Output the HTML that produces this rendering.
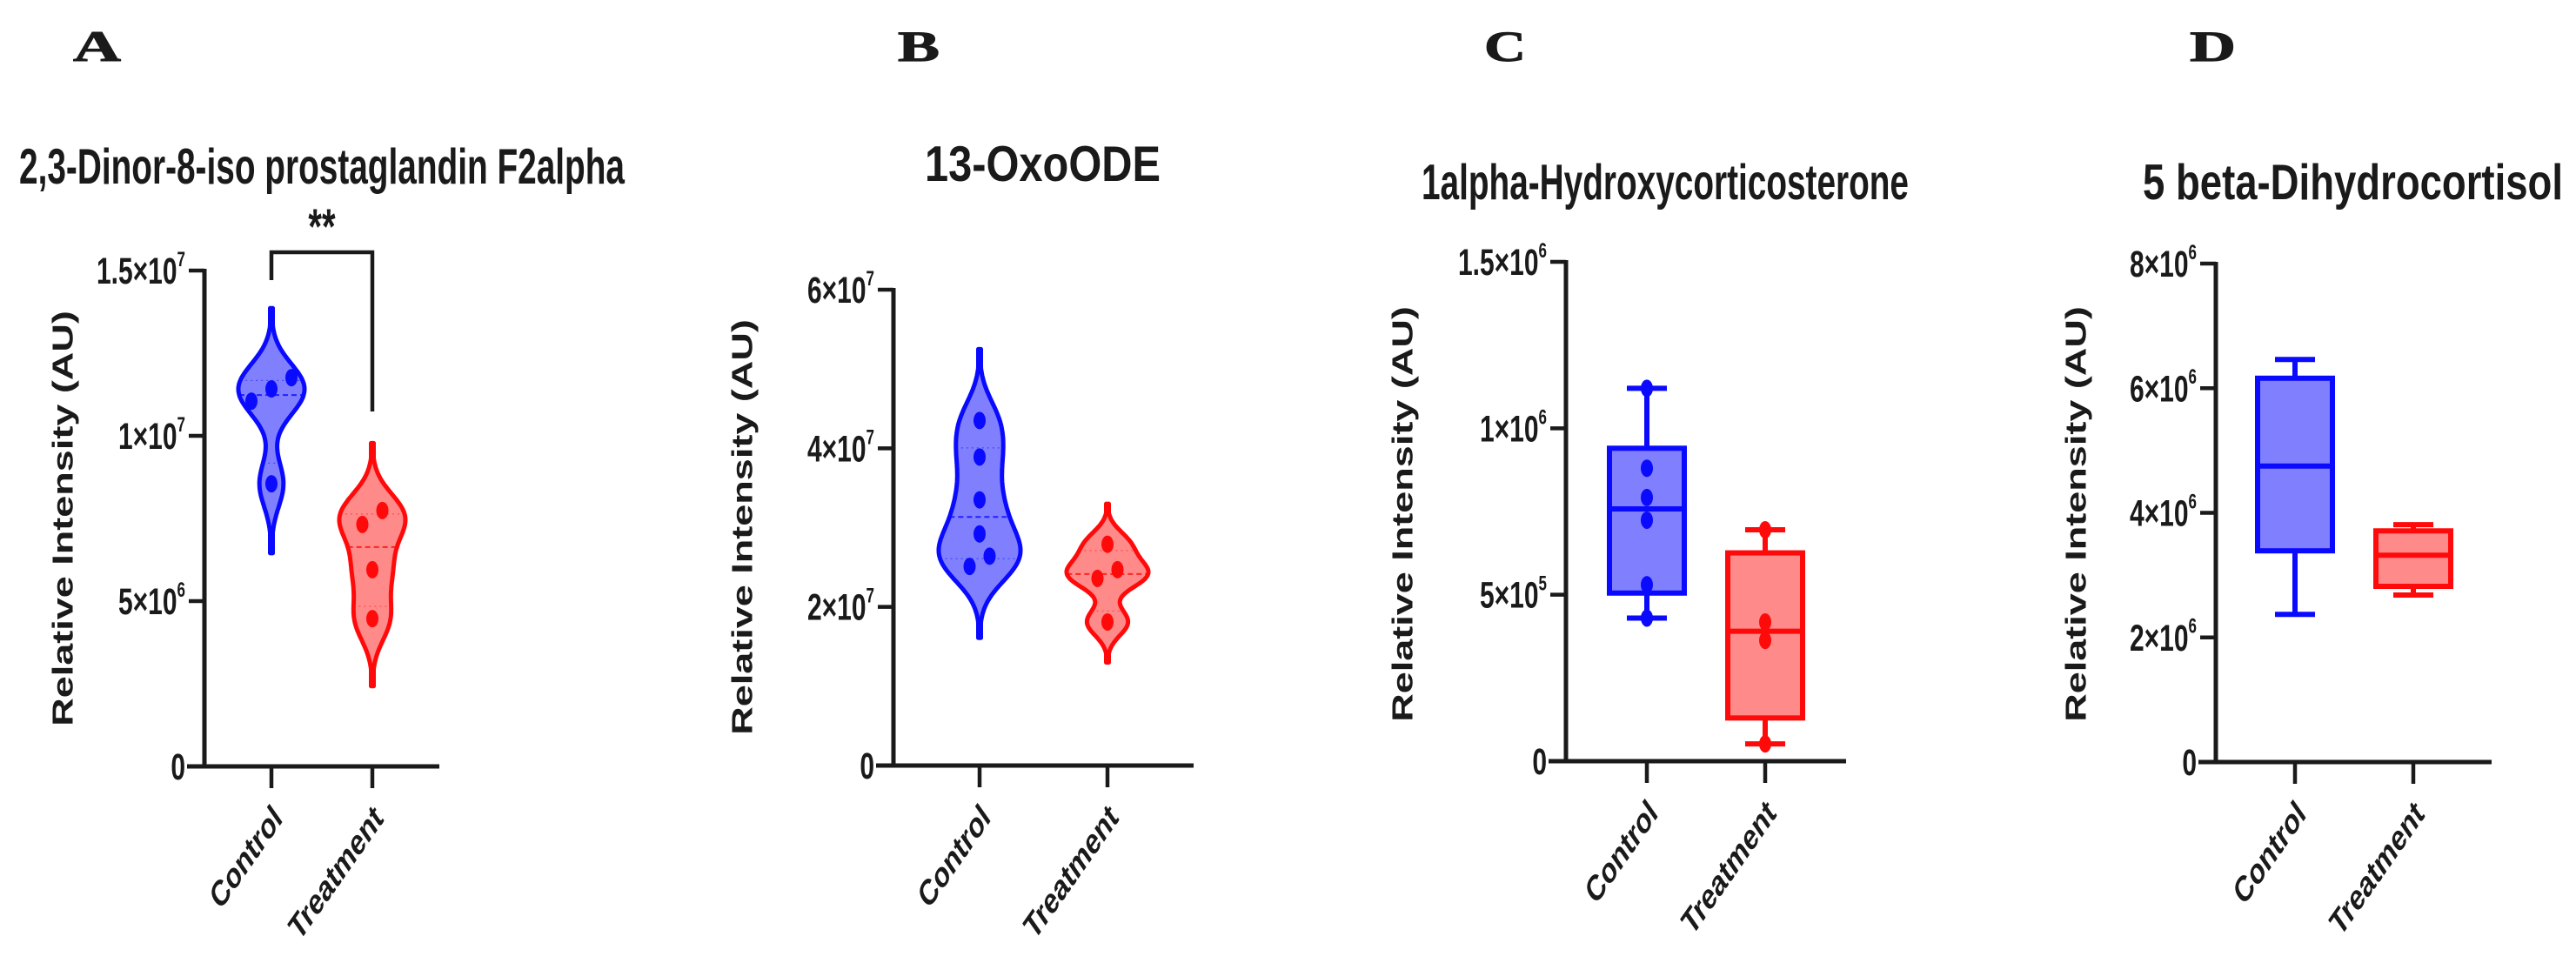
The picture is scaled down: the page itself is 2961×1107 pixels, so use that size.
<!DOCTYPE html>
<html>
<head>
<meta charset="utf-8">
<style>
  html, body { margin: 0; padding: 0; background: #ffffff; }
  svg { display: block; }
  text { font-family: "Liberation Sans", Arial, sans-serif; font-weight: bold; fill: #1a1a1a; }
  .letter { font-family: "Liberation Serif", "Times New Roman", serif; }
</style>
</head>
<body>
<svg id="fig" xmlns="http://www.w3.org/2000/svg" width="2961" height="1107" viewBox="0 0 2961 1107">
  <rect x="0" y="0" width="2961" height="1107" fill="#ffffff"/>
</svg>
<script>
// ---------- data ----------
const categories = ["Control", "Treatment"];

const aTicks = [0, 5e6, 1e7, 1.5e7];
const aTickLabels = ["0", "5×10|6", "1×10|7", "1.5×10|7"];
const aControl = [1.105e7, 1.142e7, 1.176e7, 8.55e6];
const aTreatment = [7.32e6, 7.74e6, 5.95e6, 4.47e6];
const aBandwidth = [0.7e6, 0.68e6];

const bTicks = [0, 2e7, 4e7, 6e7];
const bTickLabels = ["0", "2×10|7", "4×10|7", "6×10|7"];
const bControl = [2.51e7, 4.35e7, 3.89e7, 3.35e7, 2.92e7, 2.64e7];
const bTreatment = [2.79e7, 2.47e7, 2.36e7, 1.81e7];
const bBandwidth = [3.0e6, 1.7e6];

const cTicks = [0, 5e5, 1e6, 1.5e6];
const cTickLabels = ["0", "5×10|5", "1×10|6", "1.5×10|6"];
const cControl = [4.3e5, 5.3e5, 7.24e5, 7.92e5, 8.8e5, 1.12e6];
const cTreatment = [5.2e4, 3.63e5, 4.18e5, 6.95e5];

const dTicks = [0, 2e6, 4e6, 6e6, 8e6];
const dTickLabels = ["0", "2×10|6", "4×10|6", "6×10|6", "8×10|6"];
// five-number summaries: min, q1, median, q3, max
const dControlSummary = [2.37e6, 3.39e6, 4.75e6, 6.16e6, 6.46e6];
const dTreatmentSummary = [2.68e6, 2.82e6, 3.32e6, 3.71e6, 3.81e6];

// ---------- helpers ----------
const NS = "http://www.w3.org/2000/svg";
const svg = document.getElementById("fig");
const SY = 1.43; // vertical stretch of text
const BLUE = "#0a0aff", BLUEF = "#8080ff", RED = "#ff0a0a", REDF = "#ff8a8a", INK = "#1a1a1a";

function mk(tag, attrs, parent) {
  const e = document.createElementNS(NS, tag);
  for (const k in attrs) e.setAttribute(k, attrs[k]);
  (parent || svg).appendChild(e);
  return e;
}
function quant(sorted, p) {
  const n = sorted.length;
  let pos = p * (n + 1);
  if (pos < 1) pos = 1;
  if (pos > n) pos = n;
  const lo = Math.floor(pos), hi = Math.ceil(pos);
  return sorted[lo - 1] + (pos - lo) * (sorted[hi - 1] - sorted[lo - 1]);
}
function summary(vals) {
  const s = vals.slice().sort((a, b) => a - b);
  return [s[0], quant(s, 0.25), quant(s, 0.5), quant(s, 0.75), s[s.length - 1]];
}
function jitter(vals, thr) {
  const idx = vals.map((v, i) => i).sort((a, b) => vals[a] - vals[b]);
  const off = new Array(vals.length).fill(0);
  let cl = [idx[0]];
  const flush = () => {
    const n = cl.length;
    cl.forEach((k, j) => { off[k] = (j - (n - 1) / 2) * 23; });
  };
  for (let i = 1; i < idx.length; i++) {
    if (vals[idx[i]] - vals[idx[i - 1]] < thr) cl.push(idx[i]);
    else { flush(); cl = [idx[i]]; }
  }
  flush();
  return off;
}

function drawPanel(P) {
  const g = mk("g", {});
  
  
  const ys = v => P.y0 - (v / P.max) * (P.y0 - P.yTop);

  // letter
  const L = mk("text", { x: P.letterX, y: 70, "font-size": 50, "class": "letter", textLength: P.letterW, lengthAdjust: "spacingAndGlyphs", stroke: "#1a1a1a", "stroke-width": 1 }, g);
  L.textContent = P.letter;
  
  

  // title
  const T = mk("text", { transform: `translate(${P.tx1},${P.ty}) scale(1,${SY})`, "font-size": 40, textLength: P.tx2 - P.tx1, lengthAdjust: "spacingAndGlyphs" }, g);
  T.textContent = P.title;
  
  

  // y axis title
  const YT = mk("text", { transform: `translate(${P.ytx},${P.yty}) scale(1,${SY}) rotate(-90)`, "font-size": 33, "text-anchor": "middle", "dominant-baseline": "central", textLength: 334, lengthAdjust: "spacingAndGlyphs" }, g);
  YT.textContent = "Relative Intensity (AU)";
  
  

  // axes
  const ya = mk("line", { x1: P.axisX, y1: P.yTop - 2, x2: P.axisX, y2: P.y0 + 2.5, stroke: INK, "stroke-width": 5 }, g);
  
  
  const xa = mk("line", { x1: P.axisX - 20, y1: P.y0, x2: P.xEnd, y2: P.y0, stroke: INK, "stroke-width": 5 }, g);
  
  

  // y ticks
  P.ticks.forEach((t, i) => {
    const y = ys(t);
    const tk = mk("line", { x1: P.axisX - 18, y1: y, x2: P.axisX, y2: y, stroke: INK, "stroke-width": 4.5 }, g);
    
    
    const parts = P.tickLabels[i].split("|");
    const tx = mk("text", { transform: `translate(${P.axisX - 22},${y + 15}) scale(1,${SY})`, "font-size": 30, "text-anchor": "end" }, g);
    
    
    const t1 = mk("tspan", {}, tx); t1.textContent = parts[0];
    if (parts[1]) {
      const t2 = mk("tspan", { "font-size": 17, dy: -14 }, tx); t2.textContent = parts[1];
    }
  });

  // x ticks + category labels
  categories.forEach((c, i) => {
    const cx = P.cat[i];
    const tk = mk("line", { x1: cx, y1: P.y0, x2: cx, y2: P.y0 + 25, stroke: INK, "stroke-width": 4.5 }, g);
    
    
    const lb = mk("text", { transform: `translate(${cx + 14},${P.y0 + 62}) scale(1,${SY}) rotate(-45)`, "font-size": 29, "text-anchor": "end" }, g);
    lb.textContent = c;
    
    
  });

  const cols = [[BLUE, BLUEF], [RED, REDF]];

  if (P.type === "violin") {
    [P.d0, P.d1].forEach((vals, gi) => {
      const bw = P.bw[gi], cx = P.cat[gi];
      const lo = Math.min(...vals) - 3 * bw, hi = Math.max(...vals) + 3 * bw;
      const N = 120, pts = [];
      let mx = 0;
      for (let k = 0; k <= N; k++) {
        const v = lo + (hi - lo) * k / N;
        let d = 0;
        vals.forEach(x => { const z = (v - x) / bw; d += Math.exp(-0.5 * z * z); });
        pts.push([v, d]); if (d > mx) mx = d;
      }
      const w = p => Math.max(P.maxHalf * p[1] / mx, 1.5);
      let path = "M" + pts.map(p => `${(cx + w(p)).toFixed(1)},${ys(p[0]).toFixed(1)}`).join(" L");
      path += " L" + pts.slice().reverse().map(p => `${(cx - w(p)).toFixed(1)},${ys(p[0]).toFixed(1)}`).join(" L") + " Z";
      const vp = mk("path", { d: path, fill: cols[gi][1], stroke: cols[gi][0], "stroke-width": 5, "stroke-linejoin": "round" }, g);
      
      
      const s = summary(vals);
      [1, 2, 3].forEach(qi => {
        const v = s[qi];
        let d = 0; vals.forEach(x => { const z = (v - x) / bw; d += Math.exp(-0.5 * z * z); });
        const hw = P.maxHalf * d / mx;
        const ql = mk("line", { x1: cx - hw, y1: ys(v), x2: cx + hw, y2: ys(v), stroke: cols[gi][0], "stroke-width": qi === 2 ? 2 : 1.2, "stroke-dasharray": qi === 2 ? "6,4" : "2,4", opacity: qi === 2 ? 0.8 : 0.5 }, g);
        
        
      });
      const off = jitter(vals, 0.035 * P.max);
      vals.forEach((v, k) => {
        const dt = mk("ellipse", { cx: cx + off[k], cy: ys(v), rx: 7, ry: 10, fill: cols[gi][0] }, g);
        
        
      });
    });
  } else {
    [P.s0, P.s1].forEach((s, gi) => {
      const cx = P.cat[gi], hw = 43, cap = 23, c = cols[gi][0];
      const wl = mk("line", { x1: cx, y1: ys(s[4]), x2: cx, y2: ys(s[0]), stroke: c, "stroke-width": 6 }, g);
      
      
      [s[0], s[4]].forEach(v => {
        const cp = mk("line", { x1: cx - cap, y1: ys(v), x2: cx + cap, y2: ys(v), stroke: c, "stroke-width": 6 }, g);
        
        
      });
      const bx = mk("rect", { x: cx - hw, y: ys(s[3]), width: 2 * hw, height: ys(s[1]) - ys(s[3]), fill: cols[gi][1], stroke: c, "stroke-width": 6 }, g);
      
      
      const md = mk("line", { x1: cx - hw, y1: ys(s[2]), x2: cx + hw, y2: ys(s[2]), stroke: c, "stroke-width": 6 }, g);
      
      
      const pts = gi === 0 ? P.d0 : P.d1;
      if (pts) {
        const off = jitter(pts, 0.035 * P.max);
        pts.forEach((v, k) => {
          const dt = mk("ellipse", { cx: cx + off[k], cy: ys(v), rx: 7, ry: 10, fill: c }, g);
          
          
        });
      }
    });
  }
  if (P.sig) {
    const top = 290;
    const br = mk("path", { d: `M${P.cat[0]},322 L${P.cat[0]},${top} L${P.cat[1]},${top} L${P.cat[1]},473`, fill: "none", stroke: INK, "stroke-width": 4.5 }, g);
    
    
    const st = mk("text", { transform: `translate(${(P.cat[0] + P.cat[1]) / 2},280) scale(1,${SY})`, "font-size": 40, "text-anchor": "middle" }, g);
    st.textContent = P.sig;
    
    
  }
}

drawPanel({ name: "panel-a", letter: "A", letterX: 84, letterW: 55, title: "2,3-Dinor-8-iso prostaglandin F2alpha", tx1: 22, tx2: 718, ty: 211,
  ytx: 72, yty: 596, axisX: 235, xEnd: 505, y0: 881, yTop: 311, max: 1.5e7, cat: [312, 428],
  ticks: aTicks, tickLabels: aTickLabels, type: "violin", d0: aControl, d1: aTreatment, bw: aBandwidth, maxHalf: 38, sig: "**" });
drawPanel({ name: "panel-b", letter: "B", letterX: 1032, letterW: 48, title: "13-OxoODE", tx1: 1063, tx2: 1334, ty: 208,
  ytx: 853, yty: 606, axisX: 1027, xEnd: 1372, y0: 880, yTop: 333, max: 6e7, cat: [1126, 1273],
  ticks: bTicks, tickLabels: bTickLabels, type: "violin", d0: bControl, d1: bTreatment, bw: bBandwidth, maxHalf: 47 });
drawPanel({ name: "panel-c", letter: "C", letterX: 1706, letterW: 48, title: "1alpha-Hydroxycorticosterone", tx1: 1634, tx2: 2194, ty: 229,
  ytx: 1612, yty: 591, axisX: 1800, xEnd: 2122, y0: 875, yTop: 301, max: 1.5e6, cat: [1893, 2029],
  ticks: cTicks, tickLabels: cTickLabels, type: "box", s0: summary(cControl), s1: summary(cTreatment), d0: cControl, d1: cTreatment });
drawPanel({ name: "panel-d", letter: "D", letterX: 2517, letterW: 53, title: "5 beta-Dihydrocortisol", tx1: 2463, tx2: 2946, ty: 229,
  ytx: 2386, yty: 591, axisX: 2547, xEnd: 2864, y0: 876, yTop: 303, max: 8e6, cat: [2638, 2774],
  ticks: dTicks, tickLabels: dTickLabels, type: "box", s0: dControlSummary, s1: dTreatmentSummary });
</script>
</body>
</html>
